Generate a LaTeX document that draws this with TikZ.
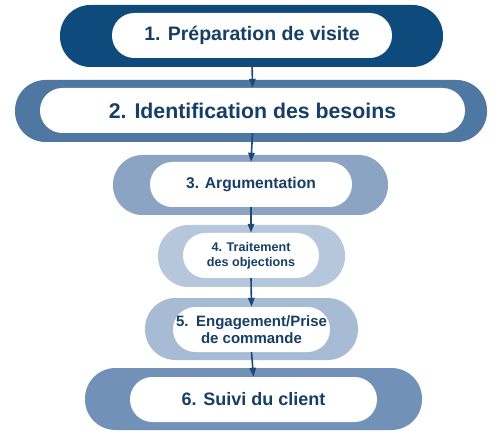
\documentclass[tikz,border=0pt]{standalone}
\usepackage{fontspec}
\setmainfont{Liberation Sans}
\usetikzlibrary{arrows.meta}
\definecolor{cA}{HTML}{0E4A7B}
\definecolor{cB}{HTML}{4E77A1}
\definecolor{cC}{HTML}{8BA4C4}
\definecolor{cD}{HTML}{B6C6DB}
\definecolor{cE}{HTML}{A8BBD4}
\definecolor{cF}{HTML}{7291B8}
\definecolor{txt}{HTML}{173F66}
\definecolor{arr}{HTML}{1C4A78}
\tikzset{
  outerbox/.style={rectangle, rounded corners=30.5pt, minimum height=62pt, inner sep=0pt, draw=none},
  innerbox/.style={rectangle, rounded corners=22.4pt, fill=white, minimum height=45pt, inner sep=0pt, draw=none, text=txt, font=\bfseries, align=center},
  flow/.style={draw=arr, line width=1.6pt, -{Triangle[length=9pt,width=6.5pt]}}
}
\begin{document}
\begin{tikzpicture}[x=1pt,y=-1pt]
\useasboundingbox (0,0) rectangle (500,443);
% outer stadiums
\node[outerbox, fill=cA, minimum width=383pt] (o1) at (251.5,36) {};
\node[outerbox, fill=cB, minimum width=472pt] (o2) at (251,111) {};
\node[outerbox, fill=cC, minimum width=275pt, minimum height=60pt, rounded corners=29.5pt] (o3) at (250.5,185) {};
\node[outerbox, fill=cD, minimum width=187pt] (o4) at (251.5,256) {};
\node[outerbox, fill=cE, minimum width=213pt] (o5) at (251.5,329) {};
\node[outerbox, fill=cF, minimum width=337pt] (o6) at (253.5,399) {};
% inner stadiums with text
\node[innerbox, minimum width=280pt, font=\bfseries\fontsize{19.5}{22}\selectfont] (n1) at (252,35.5) {1. Préparation de visite};
\node[innerbox, minimum width=425pt, font=\bfseries\fontsize{21.3}{24}\selectfont] (n2) at (252.5,110.5) {2. Identification des besoins};
\node[innerbox, minimum width=202pt, font=\bfseries\fontsize{15.6}{18}\selectfont] (n3) at (251,184.5) {3. Argumentation};
\node[innerbox, minimum width=136pt, font=\bfseries\fontsize{12.6}{15}\selectfont] (n4) at (251,255.5) {4. Traitement\\des objections};
\node[innerbox, minimum width=157pt, font=\bfseries\fontsize{15}{17}\selectfont] (n5) at (251.5,329.5) {5.\hspace{2pt} Engagement/Prise\\de commande};
\node[innerbox, minimum width=247pt, font=\bfseries\fontsize{18}{21}\selectfont] (n6) at (253.5,399.5) {6. Suivi du client};
% connectors
\draw[flow] (n1.south) -- (n2.north);
\draw[flow] (n2.south) -- (n3.north);
\draw[flow] (n3.south) -- (n4.north);
\draw[flow] (n4.south) -- (n5.north);
\draw[flow] (n5.south) -- (n6.north);
\end{tikzpicture}
\end{document}
